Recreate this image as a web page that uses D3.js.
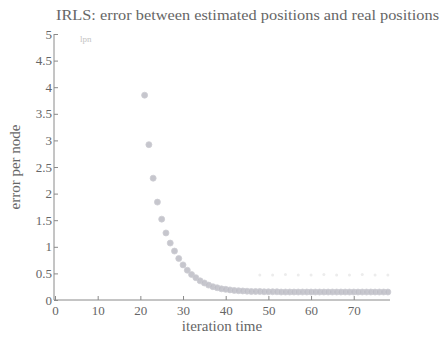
<!DOCTYPE html>
<meta charset="utf-8">
<style>
body { margin: 0; background: #fff; }
svg text { font-family: "Liberation Serif", "Times New Roman", Times, serif; fill: #666; }
.axis path, .axis line { stroke: #8a8a8a; }
</style>
<svg width="443" height="339"></svg>
<script src="https://d3js.org/d3.v7.min.js"></script>
<script>
// iteration index and error per node
var iters = d3.range(21, 79);
var errs = [3.85, 2.92, 2.29, 1.84, 1.52, 1.26, 1.07, 0.92, 0.78, 0.66,
            0.56, 0.48, 0.42, 0.36, 0.32, 0.28, 0.25, 0.23, 0.21, 0.20,
            0.19, 0.18, 0.175, 0.17, 0.165, 0.16, 0.16, 0.16, 0.155, 0.155,
            0.155, 0.155, 0.15, 0.15, 0.15, 0.15, 0.15, 0.15, 0.15, 0.15,
            0.15, 0.15, 0.15, 0.15, 0.15, 0.15, 0.15, 0.15, 0.15, 0.15,
            0.15, 0.15, 0.15, 0.15, 0.15, 0.15, 0.15, 0.15];
// faint second row of markers near the bottom
var faintIters = [48, 51, 54, 57, 60, 63, 66, 69, 72, 75, 78];
var faintErrs = [0.47, 0.47, 0.48, 0.47, 0.47, 0.48, 0.47, 0.47, 0.48, 0.47, 0.47];
var yTicks = [0, 0.5, 1, 1.5, 2, 2.5, 3, 3.5, 4, 4.5, 5];
var xTicks = [0, 10, 20, 30, 40, 50, 60, 70];

var svg = d3.select("svg");
var x = d3.scaleLinear().domain([0, 78.5]).range([55, 390]);
var y = d3.scaleLinear().domain([0, 5]).range([300, 34]);

svg.append("text").attr("x", 56).attr("y", 20).style("font-size", "15px")
   .attr("textLength", 383).attr("lengthAdjust", "spacingAndGlyphs")
   .text("IRLS: error between estimated positions and real positions");

// y axis: ticks pointing inward
var gy = svg.append("g").attr("class", "axis").attr("transform", "translate(54,0)")
   .call(d3.axisRight(y).tickValues(yTicks).tickSize(4).tickFormat(d3.format("")))
   .attr("font-family", null).attr("font-size", null);
gy.select(".domain").attr("d", "M0," + y(5) + "V" + y(0));
gy.selectAll("text").attr("x", -2).attr("text-anchor", "end").style("font-size", "13px");

var gx = svg.append("g").attr("class", "axis").attr("transform", "translate(0,300)")
   .call(d3.axisTop(x).tickValues(xTicks).tickSize(4))
   .attr("font-family", null).attr("font-size", null);
gx.select(".domain").attr("d", "M54,0H390");
gx.selectAll("text").attr("y", 15).attr("dy", 0).style("font-size", "13px");

svg.append("text").attr("transform", "translate(20,167) rotate(-90)")
   .attr("text-anchor", "middle").style("font-size", "15px").text("error per node");
svg.append("text").attr("x", 222).attr("y", 331)
   .attr("text-anchor", "middle").style("font-size", "15px").text("iteration time");

// faint legend mark
svg.append("text").attr("x", 80).attr("y", 42).style("font-size", "9px")
   .style("fill", "#c4c4c4").text("lpn");

svg.append("g").selectAll("circle").data(faintIters).join("circle")
   .attr("cx", d => x(d)).attr("cy", (d, i) => y(faintErrs[i])).attr("r", 1.5)
   .attr("fill", "#ececec");

svg.append("g").selectAll("circle").data(iters).join("circle")
   .attr("cx", d => x(d)).attr("cy", (d, i) => y(errs[i])).attr("r", 3)
   .attr("fill", "#bcbcc4").attr("stroke", "#cdcdd3").attr("stroke-width", 0.8)
   .attr("fill-opacity", 0.85);
</script>
